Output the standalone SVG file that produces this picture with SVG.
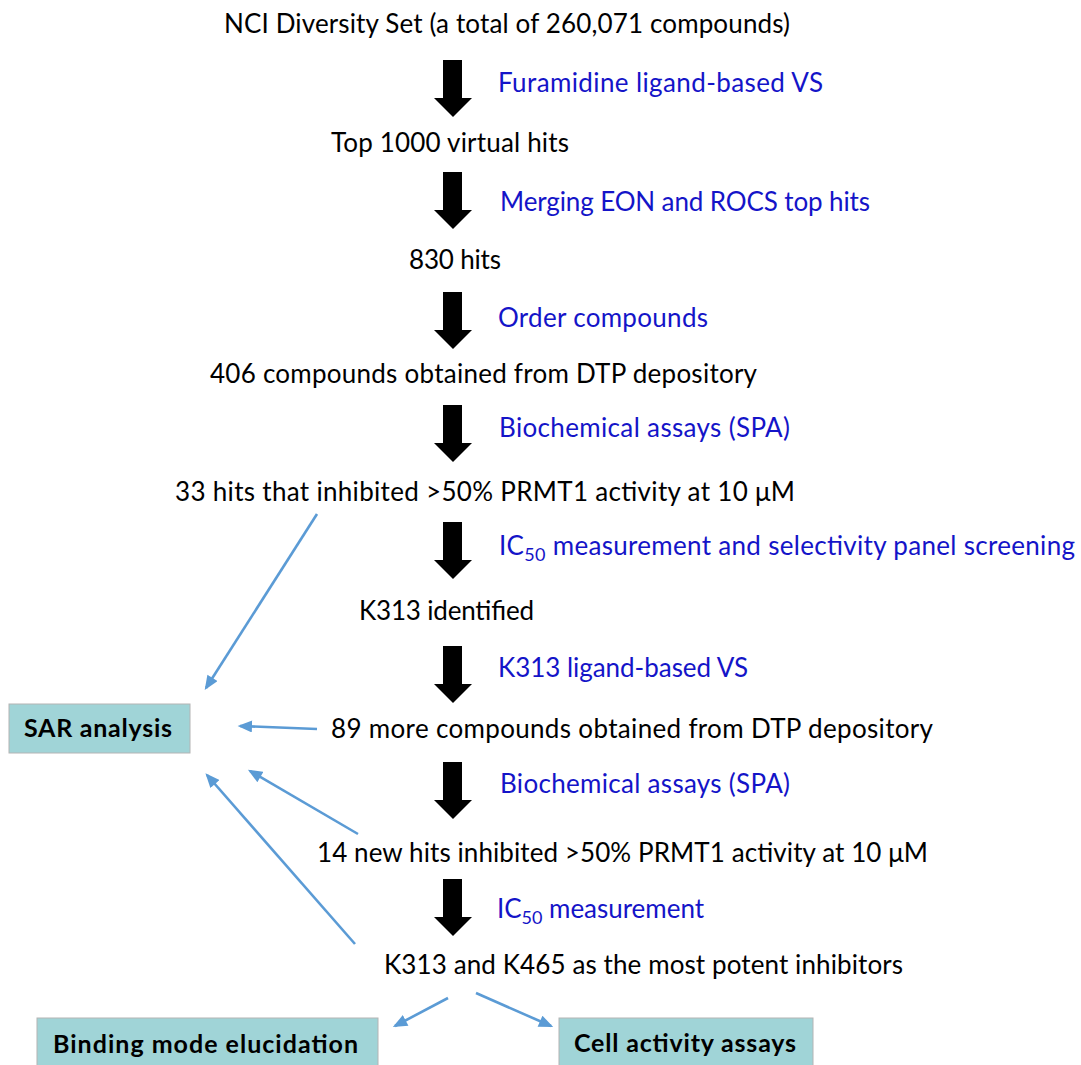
<svg xmlns="http://www.w3.org/2000/svg" width="1081" height="1065" viewBox="0 0 1081 1065">
<defs>
<style>
.t{font-family:Lato,"Open Sans","Liberation Sans",sans-serif;font-size:26px;fill:#000}
.b{font-family:Lato,"Open Sans","Liberation Sans",sans-serif;font-size:26px;fill:#1414c8}
.sub{font-size:18px}
.bx{fill:#a0d4d7;stroke:#b4b4b4;stroke-width:1}
.bt{font-family:Lato,"Open Sans","Liberation Sans",sans-serif;font-size:25px;font-weight:bold;fill:#000}
.c{stroke:#5b9bd5;stroke-width:2.6;fill:none;marker-end:url(#ah)}
.ar{fill:#000}
</style>
<marker id="ah" viewBox="0 0 12 10" refX="10" refY="5" markerWidth="15" markerHeight="12" markerUnits="userSpaceOnUse" orient="auto">
<path d="M0,0 L12,5 L0,10 z" fill="#5b9bd5"/>
</marker>
<path id="bigarrow" d="M443,0 L462,0 L462,38 L472,38 L453,57 L434,38 L443,38 z"/>
</defs>
<rect width="1081" height="1065" fill="#fff"/>

<g id="flow-arrows">
<use href="#bigarrow" class="ar" y="60"/>
<use href="#bigarrow" class="ar" y="172"/>
<use href="#bigarrow" class="ar" y="292"/>
<use href="#bigarrow" class="ar" y="405"/>
<use href="#bigarrow" class="ar" y="522"/>
<use href="#bigarrow" class="ar" y="646"/>
<use href="#bigarrow" class="ar" y="762"/>
<use href="#bigarrow" class="ar" y="879"/>
</g>

<g id="n1"><text class="t" x="224" y="33" textLength="566">NCI Diversity Set (a total of 260,071 compounds)</text></g>
<g id="l1"><text class="b" x="498" y="92" textLength="325">Furamidine ligand-based VS</text></g>
<g id="n2"><text class="t" x="331" y="152" textLength="238">Top 1000 virtual hits</text></g>
<g id="l2"><text class="b" x="500" y="211" textLength="370">Merging EON and ROCS top hits</text></g>
<g id="n3"><text class="t" x="409" y="269" textLength="92">830 hits</text></g>
<g id="l3"><text class="b" x="498" y="327" textLength="210">Order compounds</text></g>
<g id="n4"><text class="t" x="210" y="383" textLength="547">406 compounds obtained from DTP depository</text></g>
<g id="l4"><text class="b" x="499" y="437" textLength="291">Biochemical assays (SPA)</text></g>
<g id="n5"><text class="t" x="175" y="501" textLength="620">33 hits that inhibited &gt;50% PRMT1 activity at 10 μM</text></g>
<g id="l5"><text class="b" x="499" y="555" textLength="576">IC<tspan class="sub" dy="6">50</tspan><tspan dy="-6"> measurement and selectivity panel screening</tspan></text></g>
<g id="n6"><text class="t" x="359" y="620" textLength="175">K313 identified</text></g>
<g id="l6"><text class="b" x="498" y="677" textLength="250">K313 ligand-based VS</text></g>
<g id="n7"><text class="t" x="331" y="738" textLength="602">89 more compounds obtained from DTP depository</text></g>
<g id="l7"><text class="b" x="500" y="793" textLength="290">Biochemical assays (SPA)</text></g>
<g id="n8"><text class="t" x="317" y="862" textLength="611">14 new hits inhibited &gt;50% PRMT1 activity at 10 μM</text></g>
<g id="l8"><text class="b" x="497" y="918" textLength="207">IC<tspan class="sub" dy="6">50</tspan><tspan dy="-6"> measurement</tspan></text></g>
<g id="n9"><text class="t" x="384" y="974" textLength="519">K313 and K465 as the most potent inhibitors</text></g>

<g id="sar"><rect class="bx" x="9" y="704" width="181" height="49"/><text class="bt" x="24" y="737" textLength="148">SAR analysis</text></g>
<g id="binding"><rect class="bx" x="37" y="1018" width="341" height="52"/><text class="bt" x="53" y="1053" textLength="305">Binding mode elucidation</text></g>
<g id="cell"><rect class="bx" x="559" y="1018" width="254" height="52"/><text class="bt" x="574" y="1052" textLength="222">Cell activity assays</text></g>

<g id="connectors">
<line class="c" x1="317" y1="514" x2="206" y2="688"/>
<line class="c" x1="317" y1="729" x2="240" y2="726"/>
<line class="c" x1="358" y1="834" x2="250" y2="771"/>
<line class="c" x1="355" y1="944" x2="207" y2="775"/>
<line class="c" x1="448" y1="998" x2="395" y2="1026"/>
<line class="c" x1="476" y1="993" x2="551" y2="1026"/>
</g>
</svg>
